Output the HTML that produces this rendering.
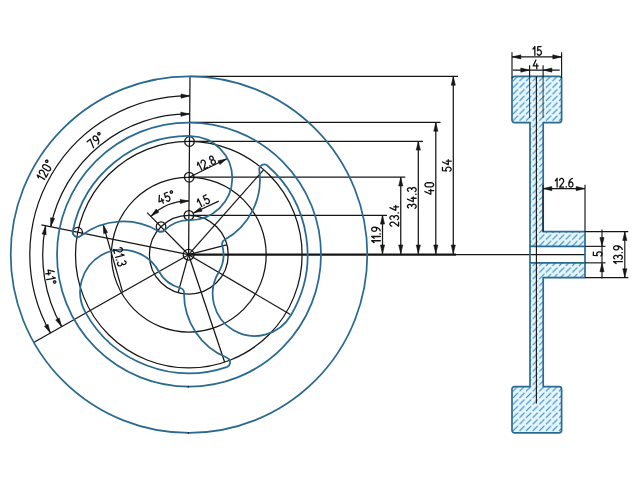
<!DOCTYPE html>
<html><head><meta charset="utf-8"><title>wheel</title>
<style>html,body{margin:0;padding:0;background:#fff;}svg{display:block;}text{font-family:"Liberation Sans",sans-serif;fill:#111;}</style>
</head><body>
<svg width="640" height="480" viewBox="0 0 640 480">
<rect width="640" height="480" fill="#fff"/>
<g fill="none" stroke="#161616" stroke-width="1.25">
<circle cx="188.8" cy="254.65" r="39.4"/>
<circle cx="188.8" cy="254.65" r="77.4"/>
<circle cx="188.8" cy="254.65" r="113.3"/>
<circle cx="188.60" cy="254.70" r="5.4"/>
<circle cx="189.49" cy="141.50" r="4.8"/>
<circle cx="189.21" cy="177.20" r="4.8"/>
<circle cx="188.91" cy="215.40" r="4.8"/>
<circle cx="161.03" cy="226.69" r="4.8"/>
<circle cx="77.65" cy="232.23" r="4.8"/>
<line x1="190.00" y1="76.41" x2="188.60" y2="254.70"/>
<line x1="188.60" y1="254.70" x2="147.14" y2="212.58"/>
<line x1="188.60" y1="254.70" x2="41.39" y2="224.88"/>
<line x1="188.60" y1="254.70" x2="33.23" y2="342.78"/>
<line x1="188.60" y1="254.70" x2="178.13" y2="292.58"/>
<line x1="188.60" y1="254.70" x2="224.61" y2="362.02"/>
<line x1="188.60" y1="254.70" x2="290.32" y2="314.50"/>
<line x1="188.60" y1="254.70" x2="226.64" y2="244.83"/>
<line x1="188.60" y1="254.70" x2="263.53" y2="169.85"/>
<path d="M 189.85 95.90 A 158.8 158.8 0 0 0 50.46 333.02"/>
<path d="M 189.71 114.00 A 140.7 140.7 0 0 0 50.70 226.77"/>
<path d="M 45.60 225.74 A 145.9 145.9 0 0 0 61.68 326.66"/>
<path d="M 189.02 200.90 A 53.8 53.8 0 0 0 150.86 216.36"/>
<line x1="189.60" y1="76.40" x2="458.00" y2="76.40"/>
<line x1="189.60" y1="122.40" x2="440.50" y2="122.40"/>
<line x1="189.60" y1="141.30" x2="423.00" y2="141.30"/>
<line x1="189.60" y1="177.20" x2="405.30" y2="177.20"/>
<line x1="189.60" y1="215.30" x2="387.00" y2="215.30"/>
<line x1="456.00" y1="254.60" x2="585.00" y2="254.60"/>
<line x1="382.50" y1="215.30" x2="382.50" y2="254.60"/>
<line x1="400.75" y1="177.20" x2="400.75" y2="254.60"/>
<line x1="418.30" y1="141.30" x2="418.30" y2="254.60"/>
<line x1="435.80" y1="122.40" x2="435.80" y2="254.60"/>
<line x1="453.30" y1="76.40" x2="453.30" y2="254.60"/>
<line x1="189.21" y1="177.20" x2="226.90" y2="158.75"/>
<line x1="193.30" y1="213.00" x2="218.75" y2="201.10"/>
<line x1="122.50" y1="291.60" x2="103.20" y2="224.60"/>
</g>
<line x1="188.6" y1="254.7" x2="456" y2="254.7" stroke="#161616" stroke-width="2.3"/>
<polygon points="382.50,215.70 384.55,224.10 380.45,224.10" fill="#161616" stroke="#161616" stroke-width="0.6" stroke-linejoin="miter"/>
<polygon points="382.50,253.40 380.45,245.00 384.55,245.00" fill="#161616" stroke="#161616" stroke-width="0.6" stroke-linejoin="miter"/>
<polygon points="400.75,177.60 402.80,186.00 398.70,186.00" fill="#161616" stroke="#161616" stroke-width="0.6" stroke-linejoin="miter"/>
<polygon points="400.75,253.40 398.70,245.00 402.80,245.00" fill="#161616" stroke="#161616" stroke-width="0.6" stroke-linejoin="miter"/>
<polygon points="418.30,141.70 420.35,150.10 416.25,150.10" fill="#161616" stroke="#161616" stroke-width="0.6" stroke-linejoin="miter"/>
<polygon points="418.30,253.40 416.25,245.00 420.35,245.00" fill="#161616" stroke="#161616" stroke-width="0.6" stroke-linejoin="miter"/>
<polygon points="435.80,122.80 437.85,131.20 433.75,131.20" fill="#161616" stroke="#161616" stroke-width="0.6" stroke-linejoin="miter"/>
<polygon points="435.80,253.40 433.75,245.00 437.85,245.00" fill="#161616" stroke="#161616" stroke-width="0.6" stroke-linejoin="miter"/>
<polygon points="453.30,76.80 455.35,85.20 451.25,85.20" fill="#161616" stroke="#161616" stroke-width="0.6" stroke-linejoin="miter"/>
<polygon points="453.30,253.40 451.25,245.00 455.35,245.00" fill="#161616" stroke="#161616" stroke-width="0.6" stroke-linejoin="miter"/>
<polygon points="189.45,95.91 181.10,98.16 181.00,94.06" fill="#161616" stroke="#161616" stroke-width="0.6" stroke-linejoin="miter"/>
<polygon points="50.26,332.67 44.44,326.28 48.04,324.31" fill="#161616" stroke="#161616" stroke-width="0.6" stroke-linejoin="miter"/>
<polygon points="189.31,114.01 180.96,116.29 180.85,112.19" fill="#161616" stroke="#161616" stroke-width="0.6" stroke-linejoin="miter"/>
<polygon points="50.79,226.38 50.61,217.73 54.61,218.62" fill="#161616" stroke="#161616" stroke-width="0.6" stroke-linejoin="miter"/>
<polygon points="45.54,226.13 46.17,234.75 42.13,234.08" fill="#161616" stroke="#161616" stroke-width="0.6" stroke-linejoin="miter"/>
<polygon points="61.49,326.30 55.67,319.90 59.28,317.94" fill="#161616" stroke="#161616" stroke-width="0.6" stroke-linejoin="miter"/>
<polygon points="188.62,200.93 180.39,203.56 180.10,199.47" fill="#161616" stroke="#161616" stroke-width="0.6" stroke-linejoin="miter"/>
<polygon points="151.16,216.10 156.15,209.04 158.84,212.13" fill="#161616" stroke="#161616" stroke-width="0.6" stroke-linejoin="miter"/>
<polygon points="226.54,158.93 219.90,164.46 218.09,160.78" fill="#161616" stroke="#161616" stroke-width="0.6" stroke-linejoin="miter"/>
<polygon points="193.66,212.83 200.40,207.42 202.14,211.13" fill="#161616" stroke="#161616" stroke-width="0.6" stroke-linejoin="miter"/>
<polygon points="103.31,224.98 107.61,232.49 103.67,233.62" fill="#161616" stroke="#161616" stroke-width="0.6" stroke-linejoin="miter"/>
<g fill="none" stroke="#2b6a8f" stroke-width="1.75" stroke-linejoin="round">
<circle cx="189" cy="254.6" r="178.3"/>
<circle cx="189" cy="254.6" r="132"/>
<path transform="rotate(0 189 254.6)" d="M 190.55 136.01 A 118.6 118.6 0 0 0 72.78 230.98 A 5 5 0 0 0 80.74 235.93 A 69.1 69.1 0 0 1 158.35 231.14 A 5 5 0 0 0 164.46 230.35 A 34.5 34.5 0 0 1 189.45 220.10 A 42.3 42.3 0 0 0 232.30 178.21 A 42.3 42.3 0 0 0 190.55 136.01 Z"/>
<path transform="rotate(-120 189 254.6)" d="M 190.55 136.01 A 118.6 118.6 0 0 0 72.78 230.98 A 5 5 0 0 0 80.74 235.93 A 69.1 69.1 0 0 1 158.35 231.14 A 5 5 0 0 0 164.46 230.35 A 34.5 34.5 0 0 1 189.45 220.10 A 42.3 42.3 0 0 0 232.30 178.21 A 42.3 42.3 0 0 0 190.55 136.01 Z"/>
<path transform="rotate(-240 189 254.6)" d="M 190.55 136.01 A 118.6 118.6 0 0 0 72.78 230.98 A 5 5 0 0 0 80.74 235.93 A 69.1 69.1 0 0 1 158.35 231.14 A 5 5 0 0 0 164.46 230.35 A 34.5 34.5 0 0 1 189.45 220.10 A 42.3 42.3 0 0 0 232.30 178.21 A 42.3 42.3 0 0 0 190.55 136.01 Z"/>
</g>
<circle cx="188.3" cy="386.7" r="0.9" fill="#123"/><circle cx="188.3" cy="432.8" r="0.9" fill="#123"/>
<path d="M 374.09 242.61 L 371.65 240.77 L 380.35 240.77 M 374.09 238.34 L 371.65 236.51 L 380.35 236.51 M 380.35 233.89 L 379.83 233.89 M 380.26 230.80 L 380.13 230.38 L 379.95 229.97 L 379.71 229.57 L 379.42 229.19 L 379.08 228.84 L 378.69 228.51 L 378.27 228.22 L 377.80 227.95 L 377.31 227.73 L 376.79 227.54 L 376.24 227.39 L 375.68 227.28 L 375.10 227.22 L 374.52 227.19 L 374.17 227.19 L 373.52 227.26 L 372.91 227.47 L 372.39 227.79 L 371.99 228.22 L 371.74 228.71 L 371.65 229.24 L 371.74 229.77 L 371.99 230.26 L 372.39 230.68 L 372.91 231.01 L 373.52 231.21 L 374.17 231.28 L 374.83 231.21 L 375.43 231.01 L 375.96 230.68 L 376.36 230.26 L 376.61 229.77 L 376.70 229.24 L 376.61 228.71 L 376.36 228.22 L 375.96 227.79 L 375.43 227.47 L 374.83 227.26 L 374.17 227.19" fill="none" stroke="#111" stroke-width="1.3" stroke-linecap="round" stroke-linejoin="round"/>
<path d="M 391.77 226.11 L 391.19 225.92 L 390.68 225.62 L 390.29 225.23 L 390.02 224.77 L 389.90 224.27 L 389.94 223.76 L 390.14 223.28 L 390.47 222.85 L 390.92 222.50 L 391.47 222.25 L 392.08 222.12 L 392.71 222.11 L 393.32 222.23 L 393.87 222.47 L 398.60 226.18 L 398.60 222.10 M 390.97 219.27 L 390.47 218.93 L 390.11 218.48 L 389.92 217.96 L 389.92 217.41 L 390.11 216.89 L 390.47 216.44 L 390.97 216.10 L 391.56 215.90 L 392.19 215.86 L 392.81 215.98 L 393.36 216.25 L 393.79 216.66 L 394.07 217.15 L 394.16 217.69 M 394.08 217.76 L 394.18 217.11 L 394.47 216.53 L 394.93 216.05 L 395.51 215.72 L 396.17 215.58 L 396.84 215.63 L 397.47 215.87 L 398.00 216.27 L 398.38 216.81 L 398.57 217.43 L 398.57 218.08 L 398.38 218.71 L 398.00 219.24 L 397.47 219.65 M 398.60 212.96 L 398.08 212.96 M 389.90 207.67 L 395.73 210.35 L 395.73 205.42 M 393.73 206.83 L 398.60 206.83" fill="none" stroke="#111" stroke-width="1.3" stroke-linecap="round" stroke-linejoin="round"/>
<path d="M 408.52 207.90 L 408.02 207.56 L 407.66 207.11 L 407.47 206.58 L 407.47 206.04 L 407.66 205.52 L 408.02 205.06 L 408.52 204.72 L 409.11 204.52 L 409.74 204.48 L 410.36 204.61 L 410.91 204.88 L 411.34 205.28 L 411.62 205.77 L 411.71 206.31 M 411.63 206.38 L 411.73 205.74 L 412.02 205.15 L 412.48 204.67 L 413.06 204.35 L 413.72 204.20 L 414.39 204.25 L 415.02 204.49 L 415.55 204.90 L 415.93 205.43 L 416.12 206.06 L 416.12 206.71 L 415.93 207.33 L 415.55 207.87 L 415.02 208.27 M 407.45 199.08 L 413.28 201.76 L 413.28 196.83 M 411.28 198.24 L 416.15 198.24 M 416.15 194.22 L 415.63 194.22 M 408.52 191.22 L 408.02 190.88 L 407.66 190.43 L 407.47 189.90 L 407.47 189.36 L 407.66 188.84 L 408.02 188.38 L 408.52 188.04 L 409.11 187.84 L 409.74 187.80 L 410.36 187.92 L 410.91 188.20 L 411.34 188.60 L 411.62 189.09 L 411.71 189.63 M 411.63 189.70 L 411.73 189.06 L 412.02 188.47 L 412.48 187.99 L 413.06 187.67 L 413.72 187.52 L 414.39 187.57 L 415.02 187.81 L 415.55 188.21 L 415.93 188.75 L 416.12 189.38 L 416.12 190.03 L 415.93 190.65 L 415.55 191.19 L 415.02 191.59" fill="none" stroke="#111" stroke-width="1.3" stroke-linecap="round" stroke-linejoin="round"/>
<path d="M 424.95 191.55 L 430.78 194.23 L 430.78 189.30 M 428.78 190.70 L 433.65 190.70 M 427.47 186.86 L 426.91 186.81 L 426.38 186.66 L 425.90 186.41 L 425.50 186.09 L 425.20 185.70 L 425.01 185.27 L 424.95 184.82 L 425.01 184.36 L 425.20 183.93 L 425.50 183.54 L 425.90 183.22 L 426.38 182.97 L 426.91 182.82 L 427.47 182.77 L 431.13 182.77 L 431.69 182.82 L 432.22 182.97 L 432.70 183.22 L 433.10 183.54 L 433.40 183.93 L 433.59 184.36 L 433.65 184.82 L 433.59 185.27 L 433.40 185.70 L 433.10 186.09 L 432.70 186.41 L 432.22 186.66 L 431.69 186.81 L 431.13 186.86 L 427.47 186.86" fill="none" stroke="#111" stroke-width="1.3" stroke-linecap="round" stroke-linejoin="round"/>
<path d="M 442.45 167.42 L 442.45 170.66 L 446.28 170.88 L 446.55 170.87 L 446.00 170.24 L 445.76 169.49 L 445.86 168.72 L 446.28 168.03 L 446.98 167.50 L 447.85 167.20 L 448.81 167.16 L 449.71 167.39 L 450.46 167.87 L 450.96 168.53 L 451.15 169.28 L 451.00 170.05 L 450.53 170.72 L 449.80 171.22 M 442.45 162.03 L 448.28 164.70 L 448.28 159.77 M 446.28 161.18 L 451.15 161.18" fill="none" stroke="#111" stroke-width="1.3" stroke-linecap="round" stroke-linejoin="round"/>
<path d="M 38.44 177.82 L 37.27 175.00 L 44.77 179.41 M 40.15 173.79 L 39.74 173.33 L 39.46 172.81 L 39.32 172.27 L 39.32 171.74 L 39.48 171.25 L 39.77 170.83 L 40.18 170.52 L 40.68 170.31 L 41.25 170.24 L 41.85 170.30 L 42.44 170.50 L 42.98 170.81 L 43.45 171.22 L 43.81 171.71 L 46.00 177.31 L 48.07 173.79 M 43.98 168.56 L 43.52 168.23 L 43.14 167.83 L 42.85 167.38 L 42.67 166.89 L 42.61 166.41 L 42.67 165.94 L 42.84 165.52 L 43.13 165.16 L 43.51 164.88 L 43.96 164.70 L 44.47 164.62 L 45.01 164.65 L 45.54 164.79 L 46.05 165.03 L 49.20 166.89 L 49.66 167.21 L 50.04 167.61 L 50.33 168.07 L 50.51 168.55 L 50.58 169.03 L 50.52 169.50 L 50.34 169.93 L 50.06 170.29 L 49.68 170.56 L 49.22 170.74 L 48.71 170.82 L 48.18 170.79 L 47.64 170.65 L 47.13 170.41 L 43.98 168.56 M 47.34 160.27 L 46.91 160.12 L 46.45 160.14 L 46.04 160.34 L 45.74 160.67 L 45.59 161.10 L 45.62 161.56 L 45.82 161.97 L 46.16 162.27 L 46.60 162.42 L 47.05 162.40 L 47.46 162.20 L 47.76 161.86 L 47.91 161.44 L 47.89 160.98 L 47.68 160.57 L 47.34 160.27" fill="none" stroke="#111" stroke-width="1.3" stroke-linecap="round" stroke-linejoin="round"/>
<path d="M 87.09 141.77 L 90.27 139.20 L 93.56 147.73 M 97.95 144.05 L 98.20 143.68 L 98.41 143.28 L 98.56 142.84 L 98.67 142.38 L 98.73 141.89 L 98.75 141.39 L 98.71 140.87 L 98.62 140.34 L 98.48 139.82 L 98.30 139.29 L 98.07 138.77 L 97.80 138.27 L 97.49 137.78 L 97.14 137.32 L 96.92 137.05 L 96.46 136.58 L 95.91 136.24 L 95.33 136.04 L 94.75 135.99 L 94.21 136.11 L 93.74 136.37 L 93.39 136.77 L 93.16 137.28 L 93.09 137.86 L 93.17 138.47 L 93.39 139.07 L 93.75 139.62 L 94.21 140.08 L 94.75 140.43 L 95.34 140.63 L 95.92 140.67 L 96.46 140.56 L 96.92 140.29 L 97.28 139.89 L 97.50 139.39 L 97.58 138.81 L 97.50 138.20 L 97.28 137.60 L 96.92 137.05 M 99.80 133.03 L 99.45 132.74 L 99.01 132.60 L 98.56 132.64 L 98.15 132.85 L 97.86 133.20 L 97.73 133.64 L 97.78 134.09 L 97.99 134.50 L 98.34 134.79 L 98.78 134.93 L 99.23 134.89 L 99.63 134.68 L 99.92 134.33 L 100.06 133.89 L 100.01 133.44 L 99.80 133.03" fill="none" stroke="#111" stroke-width="1.3" stroke-linecap="round" stroke-linejoin="round"/>
<path d="M 54.26 271.74 L 48.08 270.01 L 48.86 274.88 M 50.61 273.18 L 45.80 273.94 M 52.59 276.76 L 55.28 278.18 L 46.69 279.55 M 54.83 283.08 L 55.26 282.92 L 55.60 282.61 L 55.79 282.20 L 55.81 281.74 L 55.65 281.32 L 55.34 280.99 L 54.92 280.80 L 54.46 280.78 L 54.03 280.94 L 53.70 281.25 L 53.51 281.66 L 53.49 282.11 L 53.65 282.54 L 53.96 282.87 L 54.37 283.06 L 54.83 283.08" fill="none" stroke="#111" stroke-width="1.3" stroke-linecap="round" stroke-linejoin="round"/>
<path d="M 159.36 195.45 L 159.01 201.85 L 163.60 200.04 M 161.55 198.70 L 163.34 203.23 M 167.26 192.33 L 164.25 193.52 L 165.46 197.16 L 165.56 197.40 L 165.95 196.66 L 166.56 196.17 L 167.31 195.98 L 168.11 196.11 L 168.86 196.56 L 169.46 197.27 L 169.84 198.14 L 169.96 199.07 L 169.79 199.95 L 169.36 200.65 L 168.73 201.10 L 167.96 201.24 L 167.17 201.05 L 166.43 200.56 M 172.40 191.61 L 172.15 191.22 L 171.78 190.96 L 171.34 190.86 L 170.89 190.94 L 170.51 191.19 L 170.25 191.56 L 170.16 192.01 L 170.24 192.46 L 170.49 192.85 L 170.86 193.11 L 171.31 193.21 L 171.75 193.13 L 172.13 192.88 L 172.39 192.51 L 172.48 192.06 L 172.40 191.61" fill="none" stroke="#111" stroke-width="1.3" stroke-linecap="round" stroke-linejoin="round"/>
<path d="M 197.46 165.19 L 198.06 162.20 L 201.82 170.05 M 201.12 162.81 L 201.05 162.20 L 201.10 161.61 L 201.28 161.09 L 201.58 160.65 L 201.98 160.33 L 202.46 160.14 L 202.98 160.11 L 203.51 160.22 L 204.02 160.48 L 204.48 160.87 L 204.86 161.36 L 205.14 161.92 L 205.30 162.52 L 205.32 163.12 L 204.01 169.00 L 207.70 167.23 M 210.05 166.10 L 209.83 165.63 M 212.30 160.01 L 212.67 159.75 L 212.96 159.38 L 213.13 158.93 L 213.20 158.42 L 213.13 157.89 L 212.95 157.38 L 212.67 156.92 L 212.29 156.54 L 211.86 156.27 L 211.39 156.12 L 210.93 156.11 L 210.49 156.24 L 210.12 156.50 L 209.84 156.87 L 209.66 157.32 L 209.60 157.83 L 209.66 158.36 L 209.84 158.87 L 210.13 159.33 L 210.50 159.71 L 210.93 159.99 L 211.40 160.13 L 211.86 160.14 L 212.30 160.01 M 212.30 160.01 L 211.85 160.31 L 211.51 160.72 L 211.28 161.23 L 211.19 161.79 L 211.24 162.37 L 211.43 162.93 L 211.75 163.43 L 212.17 163.83 L 212.66 164.12 L 213.20 164.26 L 213.74 164.25 L 214.25 164.09 L 214.70 163.79 L 215.04 163.37 L 215.27 162.87 L 215.36 162.30 L 215.31 161.72 L 215.12 161.17 L 214.80 160.67 L 214.38 160.26 L 213.89 159.98 L 213.35 159.84 L 212.81 159.85 L 212.30 160.01" fill="none" stroke="#111" stroke-width="1.3" stroke-linecap="round" stroke-linejoin="round"/>
<path d="M 197.45 201.82 L 198.03 198.83 L 201.85 206.65 M 204.19 205.50 L 203.96 205.03 M 206.15 194.87 L 203.23 196.29 L 204.72 199.83 L 204.84 200.06 L 205.18 199.30 L 205.74 198.76 L 206.48 198.51 L 207.28 198.58 L 208.06 198.97 L 208.72 199.63 L 209.17 200.47 L 209.36 201.39 L 209.26 202.27 L 208.89 203.01 L 208.29 203.51 L 207.54 203.71 L 206.73 203.58 L 205.96 203.14" fill="none" stroke="#111" stroke-width="1.3" stroke-linecap="round" stroke-linejoin="round"/>
<path d="M 120.08 247.69 L 120.69 247.72 L 121.26 247.88 L 121.74 248.16 L 122.12 248.53 L 122.37 248.98 L 122.46 249.48 L 122.40 250.00 L 122.20 250.50 L 121.85 250.96 L 121.39 251.34 L 120.84 251.63 L 120.23 251.80 L 119.61 251.85 L 119.02 251.77 L 113.47 249.43 L 114.55 253.37 M 121.24 254.07 L 124.07 255.19 L 115.68 257.49 M 116.37 260.01 L 116.87 259.87 M 124.52 260.88 L 125.09 261.08 L 125.56 261.42 L 125.87 261.88 L 126.02 262.40 L 125.98 262.96 L 125.75 263.49 L 125.36 263.95 L 124.84 264.29 L 124.24 264.50 L 123.61 264.55 L 123.01 264.43 L 122.49 264.16 L 122.09 263.75 L 121.86 263.26 M 121.92 263.17 L 122.00 263.82 L 121.87 264.46 L 121.55 265.04 L 121.07 265.51 L 120.48 265.82 L 119.82 265.95 L 119.15 265.89 L 118.53 265.64 L 118.02 265.22 L 117.67 264.67 L 117.50 264.04 L 117.52 263.39 L 117.75 262.77 L 118.15 262.24" fill="none" stroke="#111" stroke-width="1.3" stroke-linecap="round" stroke-linejoin="round"/>
<defs><pattern id="h" width="6.6" height="6.6" patternUnits="userSpaceOnUse"><path d="M-1 7.6 L7.6 -1 M-1 1 L1 -1 M5.6 7.6 L7.6 5.6" stroke="#2b82c2" stroke-width="1.05" stroke-dasharray="6 2" fill="none"/></pattern></defs>
<path d="M 514.6 76.3 H 559 A 2.6 2.6 0 0 1 561.6 78.9 V 120 A 2.6 2.6 0 0 1 559 122.6 H 543.2 V 231.65 H 585 V 246.35 H 530 V 122.6 H 514.6 A 2.6 2.6 0 0 1 512 120 V 78.9 A 2.6 2.6 0 0 1 514.6 76.3 Z" fill="#e6f6fd"/>
<path d="M 514.6 76.3 H 559 A 2.6 2.6 0 0 1 561.6 78.9 V 120 A 2.6 2.6 0 0 1 559 122.6 H 543.2 V 231.65 H 585 V 246.35 H 530 V 122.6 H 514.6 A 2.6 2.6 0 0 1 512 120 V 78.9 A 2.6 2.6 0 0 1 514.6 76.3 Z" fill="url(#h)"/>
<path d="M 514.6 76.3 H 559 A 2.6 2.6 0 0 1 561.6 78.9 V 120 A 2.6 2.6 0 0 1 559 122.6 H 543.2 V 231.65 H 585 V 246.35 H 530 V 122.6 H 514.6 A 2.6 2.6 0 0 1 512 120 V 78.9 A 2.6 2.6 0 0 1 514.6 76.3 Z" fill="none" stroke="#2b6a8f" stroke-width="1.7" stroke-linejoin="round"/>
<path d="M 514.6 432.9 H 559 A 2.6 2.6 0 0 0 561.6 430.3 V 389.2 A 2.6 2.6 0 0 0 559 386.6 H 543.2 V 277.55 H 585 V 262.85 H 530 V 386.6 H 514.6 A 2.6 2.6 0 0 0 512 389.2 V 430.3 A 2.6 2.6 0 0 0 514.6 432.9 Z" fill="#e6f6fd"/>
<path d="M 514.6 432.9 H 559 A 2.6 2.6 0 0 0 561.6 430.3 V 389.2 A 2.6 2.6 0 0 0 559 386.6 H 543.2 V 277.55 H 585 V 262.85 H 530 V 386.6 H 514.6 A 2.6 2.6 0 0 0 512 389.2 V 430.3 A 2.6 2.6 0 0 0 514.6 432.9 Z" fill="url(#h)"/>
<path d="M 514.6 432.9 H 559 A 2.6 2.6 0 0 0 561.6 430.3 V 389.2 A 2.6 2.6 0 0 0 559 386.6 H 543.2 V 277.55 H 585 V 262.85 H 530 V 386.6 H 514.6 A 2.6 2.6 0 0 0 512 389.2 V 430.3 A 2.6 2.6 0 0 0 514.6 432.9 Z" fill="none" stroke="#2b6a8f" stroke-width="1.7" stroke-linejoin="round"/>
<g fill="none" stroke="#2b6a8f" stroke-width="1.7">
<line x1="530" y1="246.35" x2="530" y2="262.85"/>
<line x1="585" y1="246.35" x2="585" y2="262.85"/>
</g>
<g fill="none" stroke="#161616" stroke-width="1.15">
<line x1="536.40" y1="76.30" x2="536.40" y2="403.40"/>
<line x1="512.00" y1="52.20" x2="512.00" y2="78.30"/>
<line x1="561.60" y1="52.20" x2="561.60" y2="78.30"/>
<line x1="512.00" y1="56.90" x2="561.60" y2="56.90"/>
<line x1="529.60" y1="65.30" x2="529.60" y2="77.00"/>
<line x1="543.10" y1="65.30" x2="543.10" y2="77.00"/>
<path d="M529.6 77 V118 M543.1 77 V118" stroke="#3a3a3a" stroke-width="1"/>
<line x1="512.80" y1="70.10" x2="559.70" y2="70.10"/>
<line x1="543.00" y1="184.80" x2="543.00" y2="231.65"/>
<line x1="585.00" y1="184.80" x2="585.00" y2="231.65"/>
<line x1="543.00" y1="188.60" x2="585.00" y2="188.60"/>
<line x1="585.00" y1="246.35" x2="605.50" y2="246.35"/>
<line x1="585.00" y1="262.85" x2="605.50" y2="262.85"/>
<line x1="602.00" y1="229.40" x2="602.00" y2="278.50"/>
<line x1="585.00" y1="231.65" x2="628.30" y2="231.65"/>
<line x1="585.00" y1="277.55" x2="628.30" y2="277.55"/>
<line x1="624.80" y1="231.65" x2="624.80" y2="277.55"/>
</g>
<polygon points="512.40,56.90 520.80,54.85 520.80,58.95" fill="#161616" stroke="#161616" stroke-width="0.6" stroke-linejoin="miter"/>
<polygon points="561.20,56.90 552.80,58.95 552.80,54.85" fill="#161616" stroke="#161616" stroke-width="0.6" stroke-linejoin="miter"/>
<polygon points="529.20,70.10 520.80,72.15 520.80,68.05" fill="#161616" stroke="#161616" stroke-width="0.6" stroke-linejoin="miter"/>
<polygon points="543.50,70.10 551.90,68.05 551.90,72.15" fill="#161616" stroke="#161616" stroke-width="0.6" stroke-linejoin="miter"/>
<polygon points="543.40,188.60 551.80,186.55 551.80,190.65" fill="#161616" stroke="#161616" stroke-width="0.6" stroke-linejoin="miter"/>
<polygon points="584.60,188.60 576.20,190.65 576.20,186.55" fill="#161616" stroke="#161616" stroke-width="0.6" stroke-linejoin="miter"/>
<polygon points="602.00,245.95 599.95,237.55 604.05,237.55" fill="#161616" stroke="#161616" stroke-width="0.6" stroke-linejoin="miter"/>
<polygon points="602.00,263.25 604.05,271.65 599.95,271.65" fill="#161616" stroke="#161616" stroke-width="0.6" stroke-linejoin="miter"/>
<polygon points="624.80,232.05 626.85,240.45 622.75,240.45" fill="#161616" stroke="#161616" stroke-width="0.6" stroke-linejoin="miter"/>
<polygon points="624.80,277.15 622.75,268.75 626.85,268.75" fill="#161616" stroke="#161616" stroke-width="0.6" stroke-linejoin="miter"/>
<path d="M 533.02 48.99 L 534.85 46.55 L 534.85 55.25 M 541.10 46.55 L 537.85 46.55 L 537.64 50.38 L 537.65 50.65 L 538.28 50.10 L 539.03 49.86 L 539.80 49.96 L 540.49 50.38 L 541.02 51.08 L 541.32 51.95 L 541.36 52.91 L 541.12 53.81 L 540.65 54.56 L 539.99 55.06 L 539.23 55.25 L 538.47 55.10 L 537.80 54.63 L 537.30 53.90" fill="none" stroke="#111" stroke-width="1.3" stroke-linecap="round" stroke-linejoin="round"/>
<path d="M 535.91 60.05 L 533.23 65.88 L 538.17 65.88 M 536.76 63.88 L 536.76 68.75" fill="none" stroke="#111" stroke-width="1.3" stroke-linecap="round" stroke-linejoin="round"/>
<path d="M 555.27 180.79 L 557.10 178.35 L 557.10 187.05 M 559.60 180.22 L 559.80 179.64 L 560.10 179.13 L 560.49 178.74 L 560.95 178.47 L 561.45 178.35 L 561.96 178.39 L 562.44 178.59 L 562.87 178.92 L 563.22 179.37 L 563.47 179.92 L 563.60 180.53 L 563.61 181.16 L 563.49 181.77 L 563.25 182.32 L 559.53 187.05 L 563.62 187.05 M 566.23 187.05 L 566.23 186.53 M 572.46 178.44 L 572.03 178.57 L 571.62 178.75 L 571.22 178.99 L 570.84 179.28 L 570.49 179.62 L 570.16 180.01 L 569.87 180.43 L 569.61 180.90 L 569.38 181.39 L 569.19 181.91 L 569.04 182.46 L 568.93 183.02 L 568.87 183.60 L 568.85 184.18 L 568.85 184.53 L 568.92 185.18 L 569.12 185.79 L 569.44 186.31 L 569.87 186.71 L 570.36 186.96 L 570.89 187.05 L 571.42 186.96 L 571.91 186.71 L 572.33 186.31 L 572.66 185.79 L 572.86 185.18 L 572.93 184.53 L 572.86 183.87 L 572.66 183.27 L 572.33 182.74 L 571.91 182.34 L 571.42 182.09 L 570.89 182.00 L 570.36 182.09 L 569.87 182.34 L 569.44 182.74 L 569.12 183.27 L 568.92 183.87 L 568.85 184.53" fill="none" stroke="#111" stroke-width="1.3" stroke-linecap="round" stroke-linejoin="round"/>
<path d="M 593.35 252.14 L 593.35 255.38 L 597.18 255.59 L 597.45 255.59 L 596.90 254.95 L 596.66 254.20 L 596.76 253.44 L 597.18 252.74 L 597.88 252.21 L 598.75 251.91 L 599.71 251.88 L 600.61 252.11 L 601.36 252.59 L 601.86 253.24 L 602.05 254.00 L 601.90 254.76 L 601.43 255.43 L 600.70 255.93" fill="none" stroke="#111" stroke-width="1.3" stroke-linecap="round" stroke-linejoin="round"/>
<path d="M 616.09 263.53 L 613.65 261.70 L 622.35 261.70 M 614.72 258.88 L 614.22 258.54 L 613.86 258.09 L 613.67 257.57 L 613.67 257.02 L 613.86 256.50 L 614.22 256.05 L 614.72 255.71 L 615.31 255.51 L 615.94 255.47 L 616.56 255.59 L 617.11 255.86 L 617.54 256.26 L 617.82 256.75 L 617.91 257.29 M 617.83 257.36 L 617.93 256.72 L 618.22 256.13 L 618.68 255.65 L 619.26 255.33 L 619.92 255.18 L 620.59 255.23 L 621.22 255.47 L 621.75 255.88 L 622.13 256.41 L 622.32 257.04 L 622.32 257.69 L 622.13 258.31 L 621.75 258.85 L 621.22 259.25 M 622.35 252.57 L 621.83 252.57 M 622.26 249.48 L 622.13 249.05 L 621.95 248.64 L 621.71 248.24 L 621.42 247.87 L 621.08 247.51 L 620.69 247.18 L 620.27 246.89 L 619.80 246.63 L 619.31 246.40 L 618.79 246.21 L 618.24 246.06 L 617.68 245.95 L 617.10 245.89 L 616.52 245.87 L 616.17 245.87 L 615.52 245.94 L 614.91 246.14 L 614.39 246.47 L 613.99 246.89 L 613.74 247.38 L 613.65 247.91 L 613.74 248.44 L 613.99 248.93 L 614.39 249.36 L 614.91 249.68 L 615.52 249.88 L 616.17 249.95 L 616.83 249.88 L 617.43 249.68 L 617.96 249.36 L 618.36 248.93 L 618.61 248.44 L 618.70 247.91 L 618.61 247.38 L 618.36 246.89 L 617.96 246.47 L 617.43 246.14 L 616.83 245.94 L 616.17 245.87" fill="none" stroke="#111" stroke-width="1.3" stroke-linecap="round" stroke-linejoin="round"/>
</svg></body></html>
